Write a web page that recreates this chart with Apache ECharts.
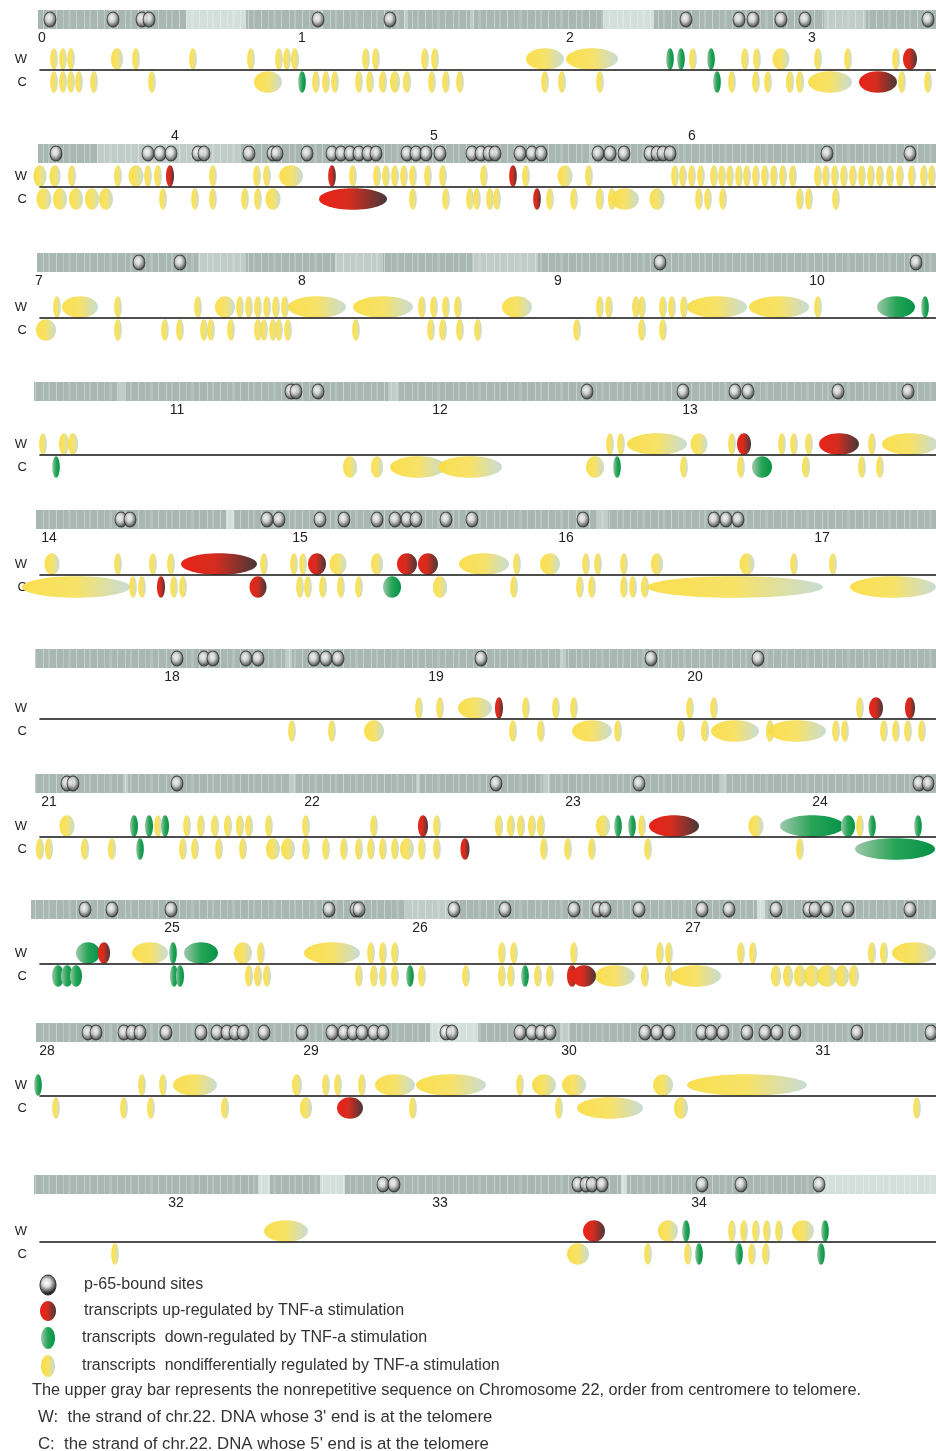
<!DOCTYPE html>
<html>
<head>
<meta charset="utf-8">
<script src="https://cdn.jsdelivr.net/npm/echarts@6/dist/echarts.min.js"></script>
<style>
  html, body { margin: 0; padding: 0; background: #fff; }
  #main { width: 936px; height: 1451px; }
</style>
</head>
<body>
<div id="main"></div>
<script>
// positions are track positions along the drawn chromosome track (0..936)
const tickPositions = [
  [42, 302, 570, 812], [175, 434, 692], [39, 302, 558, 817], [177, 440, 690],
  [49, 300, 566, 822], [172, 436, 695], [49, 312, 573, 820], [172, 420, 693],
  [47, 311, 569, 823], [176, 440, 699]
];
const tickLabels = [
  ['0', '1', '2', '3'], ['4', '5', '6'], ['7', '8', '9', '10'], ['11', '12', '13'],
  ['14', '15', '16', '17'], ['18', '19', '20'], ['21', '22', '23', '24'], ['25', '26', '27'],
  ['28', '29', '30', '31'], ['32', '33', '34']
];

// nonrepetitive sequence bar: covered span and lighter (sparser) bands [start, end, level]
const barSpans = [[38, 936], [38, 936], [37, 936], [34, 936], [36, 936], [35, 936], [35, 936], [31, 936], [36, 936], [34, 936]];
const lightBands = [
  [[186, 246, 1], [603, 654, 1], [824, 866, 2], [318, 323, 2], [404, 408, 2], [470, 474, 2]],
  [[97, 240, 2], [590, 594, 2]],
  [[198, 246, 2], [335, 383, 2], [472, 538, 2]],
  [[118, 125, 2], [388, 398, 2]],
  [[226, 234, 1], [597, 608, 2]],
  [[285, 292, 2], [560, 566, 2]],
  [[123, 128, 2], [290, 295, 2], [416, 420, 2], [543, 550, 2], [720, 726, 2]],
  [[405, 455, 2], [757, 765, 1]],
  [[430, 478, 1], [560, 570, 2]],
  [[258, 270, 1], [320, 345, 1], [621, 627, 1], [818, 936, 1]]
];

// p65-bound sites
const sites = [
  [50, 113, 142, 149, 318, 390, 686, 739, 753, 781, 805, 928],
  [56, 148, 160, 171, 198, 204, 249, 273, 277, 307, 332, 341, 350, 359, 368, 376, 407, 416, 426, 440, 472, 481, 489, 495, 520, 532, 541, 598, 610, 624, 650, 657, 663, 670, 827, 910],
  [139, 180, 660, 916],
  [291, 296, 318, 587, 683, 735, 748, 838, 908],
  [121, 130, 267, 279, 320, 344, 377, 395, 407, 416, 446, 472, 583, 714, 726, 738],
  [177, 204, 213, 246, 258, 314, 326, 338, 481, 651, 758],
  [67, 73, 177, 496, 639, 919, 928],
  [85, 112, 171, 329, 356, 359, 454, 505, 574, 598, 605, 639, 702, 729, 776, 809, 815, 827, 848, 910],
  [88, 96, 124, 132, 140, 166, 201, 217, 227, 235, 243, 264, 302, 332, 344, 353, 362, 374, 383, 446, 452, 520, 532, 541, 550, 645, 657, 669, 702, 711, 723, 747, 765, 777, 795, 857, 931],
  [383, 394, 578, 586, 592, 602, 702, 741, 819]
];

// transcripts: [center, length, regulation]  n = nondifferential, u = up, d = down
const wGenes = [
  [[54, 7, 'n'], [63, 7, 'n'], [71, 7, 'n'], [117, 12, 'n'], [136, 6, 'n'], [193, 5, 'n'], [251, 5, 'n'], [279, 7, 'n'], [287, 7, 'n'], [295, 8, 'n'], [366, 7, 'n'], [376, 7, 'n'], [425, 6, 'n'], [435, 7, 'n'], [545, 38, 'n'], [592, 52, 'n'], [670, 6, 'd'], [681, 6, 'd'], [693, 6, 'n'], [711, 6, 'd'], [745, 6, 'n'], [757, 6, 'n'], [781, 17, 'n'], [818, 6, 'n'], [848, 6, 'n'], [896, 6, 'n'], [910, 14, 'u']],
  [[40, 13, 'n'], [55, 11, 'n'], [72, 7, 'n'], [118, 7, 'n'], [136, 15, 'n'], [148, 7, 'n'], [158, 7, 'n'], [170, 8, 'u'], [213, 5, 'n'], [257, 6, 'n'], [267, 6, 'n'], [291, 24, 'n'], [332, 6, 'u'], [353, 6, 'n'], [377, 7, 'n'], [386, 7, 'n'], [395, 7, 'n'], [404, 7, 'n'], [413, 7, 'n'], [428, 6, 'n'], [443, 6, 'n'], [484, 6, 'n'], [513, 7, 'u'], [526, 6, 'n'], [565, 15, 'n'], [589, 7, 'n'],
   [675, 6, 'n'], [683, 6, 'n'], [692, 6, 'n'], [701, 6, 'n'], [714, 6, 'n'], [722, 6, 'n'], [730, 6, 'n'], [739, 6, 'n'], [747, 6, 'n'], [756, 6, 'n'], [765, 6, 'n'], [774, 6, 'n'], [783, 6, 'n'], [793, 6, 'n'],
   [818, 6, 'n'], [826, 6, 'n'], [835, 6, 'n'], [844, 6, 'n'], [853, 6, 'n'], [862, 6, 'n'], [871, 6, 'n'], [880, 6, 'n'], [890, 6, 'n'], [900, 6, 'n'], [912, 6, 'n'], [924, 6, 'n'], [932, 6, 'n']],
  [[57, 6, 'n'], [80, 36, 'n'], [118, 7, 'n'], [198, 5, 'n'], [225, 20, 'n'], [240, 6, 'n'], [249, 6, 'n'], [258, 6, 'n'], [267, 6, 'n'], [276, 6, 'n'], [285, 6, 'n'], [317, 58, 'n'], [383, 60, 'n'], [422, 7, 'n'], [434, 7, 'n'], [446, 7, 'n'], [458, 7, 'n'], [517, 30, 'n'], [600, 6, 'n'], [609, 6, 'n'], [636, 6, 'n'], [642, 6, 'n'], [663, 6, 'n'], [672, 6, 'n'], [684, 6, 'n'], [717, 60, 'n'], [779, 60, 'n'], [818, 6, 'n'], [896, 38, 'd'], [925, 6, 'd']],
  [[43, 6, 'n'], [64, 10, 'n'], [73, 10, 'n'], [610, 6, 'n'], [621, 6, 'n'], [657, 60, 'n'], [699, 17, 'n'], [732, 6, 'n'], [744, 14, 'u'], [782, 7, 'n'], [794, 7, 'n'], [809, 6, 'n'], [839, 40, 'u'], [872, 6, 'n'], [910, 56, 'n']],
  [[52, 15, 'n'], [118, 6, 'n'], [153, 6, 'n'], [171, 6, 'n'], [219, 76, 'u'], [264, 6, 'n'], [294, 6, 'n'], [303, 6, 'n'], [317, 18, 'u'], [338, 17, 'n'], [377, 12, 'n'], [407, 20, 'u'], [428, 20, 'u'], [484, 50, 'n'], [517, 6, 'n'], [550, 20, 'n'], [586, 6, 'n'], [598, 6, 'n'], [624, 6, 'n'], [657, 12, 'n'], [747, 15, 'n'], [794, 6, 'n'], [833, 6, 'n']],
  [[419, 6, 'n'], [440, 6, 'n'], [475, 34, 'n'], [499, 8, 'u'], [526, 6, 'n'], [556, 6, 'n'], [574, 6, 'n'], [690, 6, 'n'], [714, 6, 'n'], [860, 7, 'n'], [876, 14, 'u'], [910, 10, 'u']],
  [[67, 15, 'n'], [134, 8, 'd'], [149, 8, 'd'], [158, 6, 'n'], [165, 8, 'd'], [187, 7, 'n'], [201, 7, 'n'], [215, 8, 'n'], [228, 8, 'n'], [240, 8, 'n'], [249, 8, 'n'], [269, 5, 'n'], [306, 5, 'n'], [374, 5, 'n'], [423, 10, 'u'], [437, 6, 'n'], [499, 8, 'n'], [511, 8, 'n'], [521, 8, 'n'], [532, 8, 'n'], [541, 8, 'n'], [603, 14, 'n'], [618, 7, 'd'], [632, 7, 'd'], [642, 7, 'n'], [674, 50, 'u'], [756, 15, 'n'], [812, 64, 'd'], [848, 14, 'd'], [860, 6, 'n'], [872, 7, 'd'], [918, 6, 'd']],
  [[88, 24, 'd'], [104, 12, 'u'], [150, 36, 'n'], [173, 6, 'd'], [201, 34, 'd'], [243, 18, 'n'], [261, 7, 'n'], [332, 56, 'n'], [371, 7, 'n'], [383, 7, 'n'], [395, 7, 'n'], [502, 7, 'n'], [514, 7, 'n'], [574, 6, 'n'], [660, 7, 'n'], [669, 7, 'n'], [741, 7, 'n'], [753, 7, 'n'], [872, 8, 'n'], [884, 8, 'n'], [914, 44, 'n']],
  [[38, 6, 'd'], [142, 6, 'n'], [163, 6, 'n'], [195, 44, 'n'], [297, 10, 'n'], [326, 6, 'n'], [338, 6, 'n'], [362, 6, 'n'], [395, 40, 'n'], [451, 70, 'n'], [520, 6, 'n'], [544, 24, 'n'], [574, 24, 'n'], [663, 20, 'n'], [747, 120, 'n']],
  [[286, 44, 'n'], [594, 22, 'u'], [668, 20, 'n'], [686, 6, 'd'], [732, 6, 'n'], [744, 6, 'n'], [756, 6, 'n'], [767, 6, 'n'], [779, 6, 'n'], [803, 22, 'n'], [825, 7, 'd']]
];
const cGenes = [
  [[54, 7, 'n'], [63, 7, 'n'], [71, 7, 'n'], [79, 6, 'n'], [94, 6, 'n'], [152, 6, 'n'], [268, 28, 'n'], [302, 5, 'd'], [316, 7, 'n'], [326, 7, 'n'], [335, 6, 'n'], [359, 7, 'n'], [370, 7, 'n'], [383, 8, 'n'], [395, 10, 'n'], [407, 8, 'n'], [432, 7, 'n'], [446, 7, 'n'], [460, 7, 'n'], [545, 6, 'n'], [562, 6, 'n'], [600, 6, 'n'], [717, 6, 'd'], [732, 6, 'n'], [756, 7, 'n'], [768, 7, 'n'], [790, 8, 'n'], [800, 8, 'n'], [830, 44, 'n'], [878, 38, 'u'], [902, 6, 'n'], [928, 6, 'n']],
  [[44, 15, 'n'], [60, 14, 'n'], [76, 14, 'n'], [92, 14, 'n'], [106, 14, 'n'], [163, 5, 'n'], [195, 5, 'n'], [213, 5, 'n'], [245, 6, 'n'], [258, 6, 'n'], [273, 15, 'n'], [353, 68, 'u'], [413, 6, 'n'], [446, 6, 'n'], [470, 6, 'n'], [477, 6, 'n'], [490, 6, 'n'], [497, 6, 'n'], [537, 7, 'u'], [550, 6, 'n'], [574, 6, 'n'], [600, 8, 'n'], [612, 8, 'n'], [625, 28, 'n'], [657, 15, 'n'], [699, 6, 'n'], [708, 6, 'n'], [723, 5, 'n'], [800, 6, 'n'], [809, 6, 'n'], [836, 6, 'n']],
  [[46, 20, 'n'], [118, 6, 'n'], [165, 5, 'n'], [180, 5, 'n'], [204, 6, 'n'], [211, 6, 'n'], [231, 6, 'n'], [258, 6, 'n'], [264, 6, 'n'], [273, 6, 'n'], [279, 6, 'n'], [288, 6, 'n'], [356, 6, 'n'], [431, 6, 'n'], [443, 6, 'n'], [460, 6, 'n'], [478, 6, 'n'], [577, 5, 'n'], [642, 6, 'n'], [663, 6, 'n']],
  [[56, 5, 'd'], [350, 14, 'n'], [377, 12, 'n'], [418, 56, 'n'], [470, 64, 'n'], [595, 18, 'n'], [617, 5, 'd'], [684, 5, 'n'], [741, 5, 'n'], [762, 20, 'd'], [806, 8, 'n'], [862, 6, 'n'], [880, 7, 'n']],
  [[76, 108, 'n'], [133, 6, 'n'], [142, 6, 'n'], [161, 8, 'u'], [174, 6, 'n'], [183, 6, 'n'], [258, 17, 'u'], [300, 6, 'n'], [308, 6, 'n'], [323, 6, 'n'], [341, 6, 'n'], [359, 6, 'n'], [392, 18, 'd'], [440, 14, 'n'], [514, 6, 'n'], [580, 6, 'n'], [592, 6, 'n'], [624, 6, 'n'], [633, 6, 'n'], [645, 8, 'n'], [735, 176, 'n'], [893, 86, 'n']],
  [[292, 5, 'n'], [332, 5, 'n'], [374, 20, 'n'], [513, 6, 'n'], [541, 6, 'n'], [592, 40, 'n'], [618, 6, 'n'], [681, 6, 'n'], [705, 8, 'n'], [735, 48, 'n'], [770, 8, 'n'], [797, 58, 'n'], [836, 6, 'n'], [845, 6, 'n'], [884, 6, 'n'], [896, 6, 'n'], [908, 6, 'n'], [922, 6, 'n']],
  [[40, 8, 'n'], [49, 8, 'n'], [85, 8, 'n'], [112, 8, 'n'], [140, 7, 'd'], [183, 7, 'n'], [195, 7, 'n'], [219, 6, 'n'], [243, 6, 'n'], [273, 14, 'n'], [288, 14, 'n'], [306, 6, 'n'], [326, 6, 'n'], [344, 6, 'n'], [359, 7, 'n'], [371, 7, 'n'], [383, 7, 'n'], [395, 7, 'n'], [407, 14, 'n'], [422, 7, 'n'], [437, 7, 'n'], [465, 9, 'u'], [544, 6, 'n'], [568, 6, 'n'], [592, 6, 'n'], [648, 6, 'n'], [800, 3, 'n'], [895, 80, 'd']],
  [[58, 12, 'd'], [67, 12, 'd'], [76, 12, 'd'], [174, 8, 'd'], [180, 8, 'd'], [249, 8, 'n'], [258, 8, 'n'], [267, 8, 'n'], [359, 6, 'n'], [374, 6, 'n'], [383, 6, 'n'], [395, 6, 'n'], [410, 6, 'd'], [422, 6, 'n'], [466, 5, 'n'], [502, 6, 'n'], [511, 6, 'n'], [525, 7, 'd'], [538, 6, 'n'], [550, 5, 'n'], [572, 10, 'u'], [584, 24, 'u'], [615, 40, 'n'], [645, 8, 'n'], [669, 8, 'n'], [696, 50, 'n'], [776, 10, 'n'], [788, 10, 'n'], [800, 12, 'n'], [812, 16, 'n'], [827, 20, 'n'], [842, 14, 'n'], [854, 10, 'n']],
  [[56, 6, 'n'], [124, 5, 'n'], [151, 6, 'n'], [225, 8, 'n'], [306, 12, 'n'], [350, 26, 'u'], [413, 5, 'n'], [559, 6, 'n'], [610, 66, 'n'], [681, 14, 'n'], [917, 6, 'n']],
  [[115, 6, 'n'], [578, 22, 'n'], [648, 6, 'n'], [688, 6, 'n'], [699, 6, 'd'], [739, 7, 'd'], [752, 6, 'n'], [766, 6, 'n'], [821, 6, 'd']]
];

const legendItems = [
  'p-65-bound sites',
  'transcripts up-regulated by TNF-a stimulation',
  'transcripts  down-regulated by TNF-a stimulation',
  'transcripts  nondifferentially regulated by TNF-a stimulation'
];
const notes = [
  'The upper gray bar represents the nonrepetitive sequence on Chromosome 22, order from centromere to telomere.',
  "W:  the strand of chr.22. DNA whose 3' end is at the telomere",
  "C:  the strand of chr.22. DNA whose 5' end is at the telomere"
];

// layout of the ten panels
const barTop = [10, 144, 253, 382, 510, 649, 774, 900, 1023, 1175];
const lineY = [70, 187, 318, 455, 575, 719, 837, 964, 1096, 1242];
const FONT = '"Liberation Sans", Arial, sans-serif';

const G = echarts.graphic;
const fills = {
  n: () => new G.LinearGradient(0, 0, 1, 0, [
    { offset: 0, color: '#f9dd45' }, { offset: 0.5, color: '#f7e160' }, { offset: 1, color: '#c4dad2' }]),
  u: () => new G.LinearGradient(0, 0, 1, 0, [
    { offset: 0, color: '#ea2318' }, { offset: 0.45, color: '#d52c1f' }, { offset: 1, color: '#473838' }]),
  d: () => new G.LinearGradient(0, 0, 1, 0, [
    { offset: 0, color: '#9fc7a9' }, { offset: 0.5, color: '#27a458' }, { offset: 1, color: '#049246' }])
};
const siteFill = () => new G.RadialGradient(0.42, 0.4, 0.62, [
  { offset: 0, color: '#ffffff' }, { offset: 0.38, color: '#dcdcdc' },
  { offset: 0.7, color: '#7a7a7a' }, { offset: 1, color: '#202020' }]);

// faint vertical striping of the sequence bar
const stripe = document.createElement('canvas');
stripe.width = 41; stripe.height = 20;
(function () {
  const c = stripe.getContext('2d');
  [[2, 1, 0.35], [7, 2, 0.2], [15, 1, 0.4], [22, 1, 0.25], [27, 3, 0.15], [35, 1, 0.35]].forEach(([x, w, a]) => {
    c.fillStyle = 'rgba(255,255,255,' + a + ')';
    c.fillRect(x, 0, w, 20);
  });
})();

const chart = echarts.init(document.getElementById('main'), null, { renderer: 'canvas' });

const grid = [], xAxis = [], yAxis = [], series = [];

function rectRender(fillOf) {
  return function (params, api) {
    const a = api.coord([api.value(0), 1]);
    const b = api.coord([api.value(1), 0]);
    return {
      type: 'rect',
      shape: { x: a[0], y: a[1], width: b[0] - a[0], height: b[1] - a[1] },
      style: { fill: fillOf(api.value(2)) }
    };
  };
}

function geneRender(rows, lane) {
  return function (params, api) {
    const g = rows[params.dataIndex];
    const p0 = api.coord([g[0] - g[1] / 2, lane]);
    const p1 = api.coord([g[0] + g[1] / 2, lane]);
    const ry = api.size([0, 0.9])[1] / 2;
    return {
      type: 'ellipse',
      shape: { cx: (p0[0] + p1[0]) / 2, cy: p0[1], rx: Math.max((p1[0] - p0[0]) / 2, 3.8), ry: ry },
      style: { fill: fills[g[2]](), opacity: g[2] === 'n' ? 0.95 : 1 }
    };
  };
}

const order = { n: 0, d: 1, u: 2 };

for (let i = 0; i < 10; i++) {
  const bg = 2 * i, sg = 2 * i + 1;
  grid.push({ left: 0, right: 0, top: barTop[i], height: 19 });
  grid.push({ left: 40, right: 0, top: lineY[i] - 24, height: 48 });

  const pos = tickPositions[i], labs = tickLabels[i];
  xAxis.push({
    gridIndex: bg, type: 'value', min: 0, max: 936,
    position: i === 1 ? 'top' : 'bottom',
    axisLine: { show: false }, axisTick: { show: false }, splitLine: { show: false },
    axisLabel: {
      customValues: pos,
      formatter: v => labs[pos.indexOf(v)] || '',
      fontSize: 14, color: '#222', margin: i === 1 ? 1 : 2, fontFamily: FONT
    }
  });
  yAxis.push({ gridIndex: bg, type: 'value', min: 0, max: 1, show: false });

  xAxis.push({
    gridIndex: sg, type: 'value', min: 40, max: 936, z: 6,
    axisLine: { onZero: true, lineStyle: { color: '#151515', width: 1.6 } },
    axisTick: { show: false }, axisLabel: { show: false }, splitLine: { show: false }
  });
  yAxis.push({
    gridIndex: sg, type: 'value', min: -1, max: 1,
    axisLine: { show: false }, axisTick: { show: false }, splitLine: { show: false },
    axisLabel: {
      customValues: [0.46, -0.5],
      formatter: v => (v > 0 ? 'W' : 'C'),
      margin: 13, fontSize: 13, color: '#222', fontFamily: FONT
    }
  });

  series.push({
    type: 'custom', xAxisIndex: bg, yAxisIndex: bg, silent: true, z: 1,
    data: [[barSpans[i][0], barSpans[i][1], 0]],
    renderItem: rectRender(() => '#a8b7b1')
  });
  series.push({
    type: 'custom', xAxisIndex: bg, yAxisIndex: bg, silent: true, z: 1,
    data: lightBands[i],
    renderItem: rectRender(l => (l === 1 ? '#d3dfda' : '#bfccc7'))
  });
  series.push({
    type: 'custom', xAxisIndex: bg, yAxisIndex: bg, silent: true, z: 1,
    data: [[barSpans[i][0], barSpans[i][1], 0]],
    renderItem: rectRender(() => ({ image: stripe, repeat: 'repeat' }))
  });
  series.push({
    type: 'scatter', xAxisIndex: bg, yAxisIndex: bg, silent: true, z: 3,
    symbol: 'circle', symbolSize: [12, 15],
    itemStyle: { color: siteFill(), borderColor: '#2a2a2a', borderWidth: 1 },
    data: sites[i].map(x => [x, 0.5])
  });

  [[wGenes[i], 0.46], [cGenes[i], -0.5]].forEach(([rows, lane]) => {
    const sorted = rows.slice().sort((a, b) => order[a[2]] - order[b[2]]);
    series.push({
      type: 'custom', xAxisIndex: sg, yAxisIndex: sg, silent: true, z: 2,
      data: sorted.map(g => [g[0], g[1]]),
      renderItem: geneRender(sorted, lane)
    });
  });
}

// legend and notes
const graphic = [];
const legendY = [1285, 1311, 1338, 1366];
const legendShapes = [
  { rx: 8, ry: 10, fill: siteFill(), stroke: '#333' },
  { rx: 8, ry: 10, fill: fills.u() },
  { rx: 7, ry: 11, fill: fills.d() },
  { rx: 7, ry: 11, fill: fills.n() }
];
legendItems.forEach((t, k) => {
  const s = legendShapes[k];
  graphic.push({
    type: 'ellipse', shape: { cx: 48, cy: legendY[k], rx: s.rx, ry: s.ry },
    style: { fill: s.fill, stroke: s.stroke || null, lineWidth: s.stroke ? 1 : 0 }
  });
  graphic.push({
    type: 'text', x: k < 2 ? 84 : 82, y: legendY[k],
    style: { text: t, font: '16px ' + FONT, fill: '#333', verticalAlign: 'middle' }
  });
});
const noteX = [32, 38, 38], noteY = [1391, 1417, 1444], noteSize = [16.3, 16.8, 16.8];
notes.forEach((t, k) => {
  graphic.push({
    type: 'text', x: noteX[k], y: noteY[k],
    style: { text: t, font: noteSize[k] + 'px ' + FONT, fill: '#333', verticalAlign: 'middle' }
  });
});

chart.setOption({
  animation: false,
  backgroundColor: '#fff',
  grid, xAxis, yAxis, series, graphic
});
</script>
</body>
</html>
